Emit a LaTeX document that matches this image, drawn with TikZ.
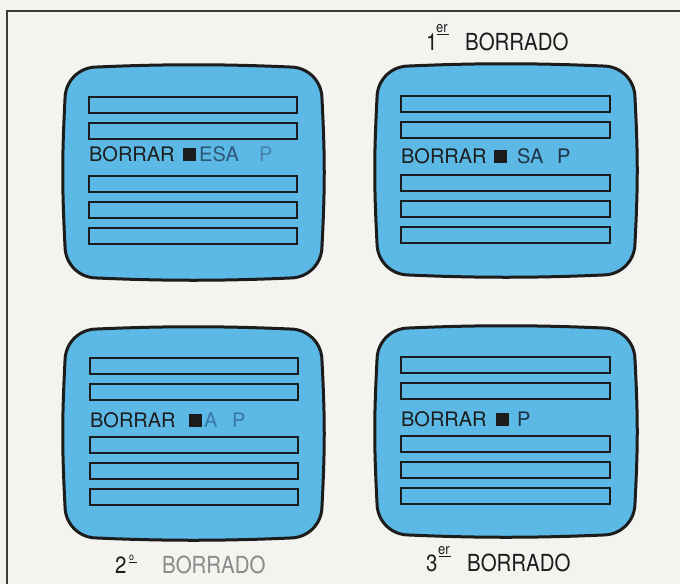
\documentclass[tikz,border=0pt]{standalone}
\usepackage{fontspec}
\setmainfont{TeX Gyre Heros}
\usepackage{graphicx}
\definecolor{paper}{HTML}{F4F3F0}
\definecolor{scr}{HTML}{5CB8E4}
\definecolor{ink}{HTML}{1C1C1C}
\definecolor{framec}{HTML}{3A3A3A}
\definecolor{dimA}{HTML}{2C5778}
\definecolor{dimB}{HTML}{4A82AC}
\definecolor{dimC}{HTML}{3878A6}
\definecolor{dimD}{HTML}{1E3347}
\definecolor{greylab}{HTML}{8A8A8A}
\tikzset{
  crtshape/.style={draw=ink, fill=scr, line width=3pt},
  bar/.style={draw=ink, line width=1.4pt},
  framel/.style={draw=framec, line width=1.5pt},
  st/.style={font=\fontsize{20}{24}\selectfont, text=ink, inner sep=0pt, anchor=base west},
  sq/.style={fill=ink, inner sep=0pt, minimum size=13pt, anchor=south west},
  lab/.style={font=\fontsize{23.5}{26}\selectfont, text=ink, inner sep=0pt, anchor=base west},
  suplab/.style={font=\fontsize{15}{17}\selectfont, text=ink, inner sep=0pt, anchor=base west},
  ordlab/.style={font=\fontsize{10}{12}\selectfont, text=ink, inner sep=0pt, anchor=base west},
  uline/.style={draw=ink, line width=1.1pt}
}
\newcommand\crt[4]{%
  \draw[crtshape] (#1,{#2+32}) .. controls (#1,{#2+14}) and ({#1+14},#2) .. ({#1+32},#2)
    .. controls ({#1+100},{#2-3}) and ({#3-100},{#2-3}) .. ({#3-32},#2)
    .. controls ({#3-14},#2) and (#3,{#2+14}) .. (#3,{#2+32})
    .. controls ({#3+3},{#2+90}) and ({#3+3},{#4-90}) .. (#3,{#4-32})
    .. controls (#3,{#4-14}) and ({#3-14},#4) .. ({#3-32},#4)
    .. controls ({#3-100},{#4+3}) and ({#1+100},{#4+3}) .. ({#1+32},#4)
    .. controls ({#1+14},#4) and (#1,{#4-14}) .. (#1,{#4-32})
    .. controls ({#1-3},{#4-90}) and ({#1-3},{#2+90}) .. cycle;}
\newcommand\crtbars[3]{%
  \foreach \yy in {0,26,79,105,131}
    \draw[bar] (#1,{#3+\yy}) rectangle (#2,{#3+\yy+16});}
\newcommand\sx[1]{\scalebox{0.87}[1]{#1}}
\begin{document}
\begin{tikzpicture}[x=1pt,y=-1pt]
\useasboundingbox[fill=paper] (0,0) rectangle (680,584);
% frame
\draw[framel] (7,584) -- (7,11) -- (680,11);
% screens
\crt{65}{67}{322}{278}
\crt{377}{66}{635}{275}
\crt{65}{329}{322}{538}
\crt{377}{328}{635}{535}
\crtbars{89}{297}{97}
\crtbars{401}{610}{96}
\crtbars{90}{298}{358}
\crtbars{401}{610}{357}
% screen 1
\node[st] (s1b) at (89,161) {BORRAR};
\node[sq] (s1q) at (183,161) {};
\node[st, text=dimA] (s1e) at (199,161) {ESA};
\node[st, text=dimB] (s1p) at (259,161) {P};
% screen 2
\node[st] (s2b) at (401,163) {BORRAR};
\node[sq] (s2q) at (494,163) {};
\node[st, text=dimD] (s2e) at (517,163) {SA};
\node[st, text=dimD] (s2p) at (557,163) {P};
% screen 3
\node[st] (s3b) at (90,427) {BORRAR};
\node[sq] (s3q) at (189,427) {};
\node[st, text=dimC] (s3e) at (204,427) {A};
\node[st, text=dimC] (s3p) at (232,427) {P};
% screen 4
\node[st] (s4b) at (401,426) {BORRAR};
\node[sq] (s4q) at (496,426) {};
\node[st, text=dimD] (s4p) at (517,426) {P};
% labels
\node[lab] (l1n) at (426,50) {\sx{1}};
\node[suplab] (l1s) at (436,32) {\sx{er}};
\draw[uline] (436.5,34.5) -- (449,34.5);
\node[lab] (l1t) at (465,50) {\sx{BORRADO}};
\node[lab] (l2n) at (115,573) {\sx{2}};
\node[ordlab] (l2s) at (129,560) {\sx{o}};
\draw[uline] (129,562.5) -- (137,562.5);
\node[lab, text=greylab] (l2t) at (162,573) {\sx{BORRADO}};
\node[lab] (l3n) at (426,571) {\sx{3}};
\node[suplab] (l3s) at (438,554) {\sx{er}};
\draw[uline] (438.5,556.5) -- (451,556.5);
\node[lab] (l3t) at (467,571) {\sx{BORRADO}};
\end{tikzpicture}
\end{document}
